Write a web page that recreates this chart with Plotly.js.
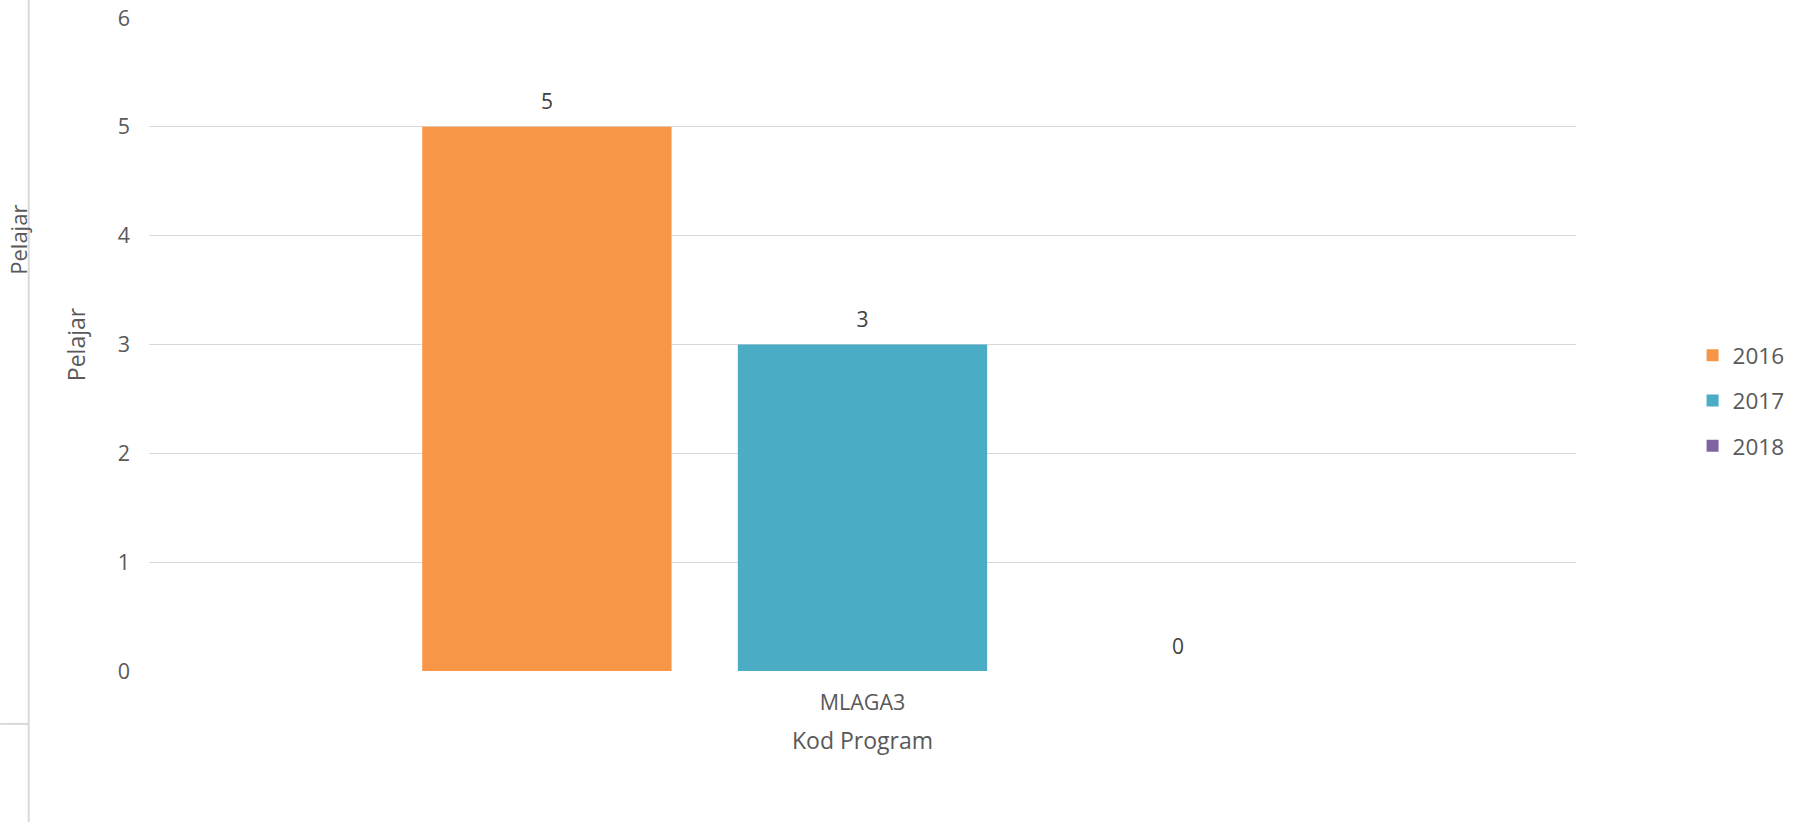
<!DOCTYPE html>
<html>
<head>
<meta charset="utf-8">
<script src="https://cdn.plot.ly/plotly-3.0.1.min.js"></script>
<style>html,body{margin:0;padding:0;background:#fff;}#chart{width:1793px;height:822px;}</style>
</head>
<body>
<div id="chart"></div>
<script>
const categories = ["MLAGA3"];
const seriesNames = ["2016", "2017", "2018"];
const values2016 = [5];
const values2017 = [3];
const values2018 = [0];
const seriesValues = [values2016, values2017, values2018];
const seriesColors = ["#F79646", "#4BACC6", "#8064A2"];
const yTickVals = [0, 1, 2, 3, 4, 5, 6];
const xTitle = "Kod Program";
const yTitle = "Pelajar";

const FONT = "Open Sans, sans-serif";
const TXT = "#595959";
const GAP = 0.3365;

const barTraces = seriesNames.map((name, i) => ({
  type: "bar",
  name: name,
  x: categories,
  y: seriesValues[i],
  offsetgroup: "g" + i,
  alignmentgroup: "a",
  marker: {color: seriesColors[i]},
  legendgroup: "g" + i,
  hoverinfo: "x+y+name"
}));

const labelTraces = seriesNames.map((name, i) => ({
  type: "scatter",
  mode: "markers+text",
  name: name,
  x: categories,
  y: seriesValues[i],
  text: seriesValues[i].map(String),
  textposition: "top center",
  offsetgroup: "g" + i,
  alignmentgroup: "a",
  orientation: "v",
  cliponaxis: false,
  marker: {size: 18, color: "rgba(0,0,0,0)"},
  textfont: {family: FONT, size: 21, color: "#404040"},
  showlegend: false,
  hoverinfo: "skip"
}));

const layout = {
  width: 1793,
  height: 822,
  paper_bgcolor: "#ffffff",
  plot_bgcolor: "#ffffff",
  font: {family: FONT, size: 21, color: TXT},
  margin: {l: 149, r: 217, t: 18, b: 151, pad: 0, autoexpand: false},
  barmode: "group",
  bargap: GAP,
  bargroupgap: 0.21,
  scattermode: "group",
  scattergap: GAP,
  showlegend: true,
  legend: {
    x: 1.0817, xanchor: "left",
    y: 0.414, yanchor: "middle",
    traceorder: "grouped",
    tracegroupgap: 13,
    font: {family: FONT, size: 22.5, color: TXT},
    bgcolor: "rgba(0,0,0,0)"
  },
  xaxis: {
    type: "category",
    showgrid: false,
    showline: false,
    zeroline: false,
    ticks: "",
    ticklabelstandoff: 16,
    tickfont: {family: FONT, size: 21.5, color: TXT},
    title: {text: xTitle, font: {family: FONT, size: 23, color: TXT}, standoff: 18}
  },
  yaxis: {
    range: [0, 6],
    tickvals: yTickVals,
    showgrid: true,
    gridcolor: "#D9D9D9",
    gridwidth: 1.3,
    zeroline: false,
    showline: false,
    ticks: "",
    ticklabelstandoff: 18,
    tickfont: {family: FONT, size: 21.5, color: TXT},
    title: {text: yTitle, font: {family: FONT, size: 23, color: TXT}, standoff: 25}
  },
  shapes: [
    {type: "line", xref: "paper", yref: "paper", x0: -0.0843, x1: -0.0843, y0: -0.236, y1: 1.03, line: {color: "#D9D9D9", width: 2}},
    {type: "line", xref: "paper", yref: "paper", x0: -0.1043, x1: -0.0843, y0: -0.081, y1: -0.081, line: {color: "#D9D9D9", width: 2}}
  ],
  annotations: [
    {text: yTitle, xref: "paper", yref: "paper", x: -0.0799, xanchor: "right", y: 0.6604, yanchor: "middle",
     textangle: -90, showarrow: false, font: {family: FONT, size: 22, color: TXT}}
  ]
};

Plotly.newPlot("chart", barTraces.concat(labelTraces), layout, {displayModeBar: false, responsive: false});
</script>
</body>
</html>
